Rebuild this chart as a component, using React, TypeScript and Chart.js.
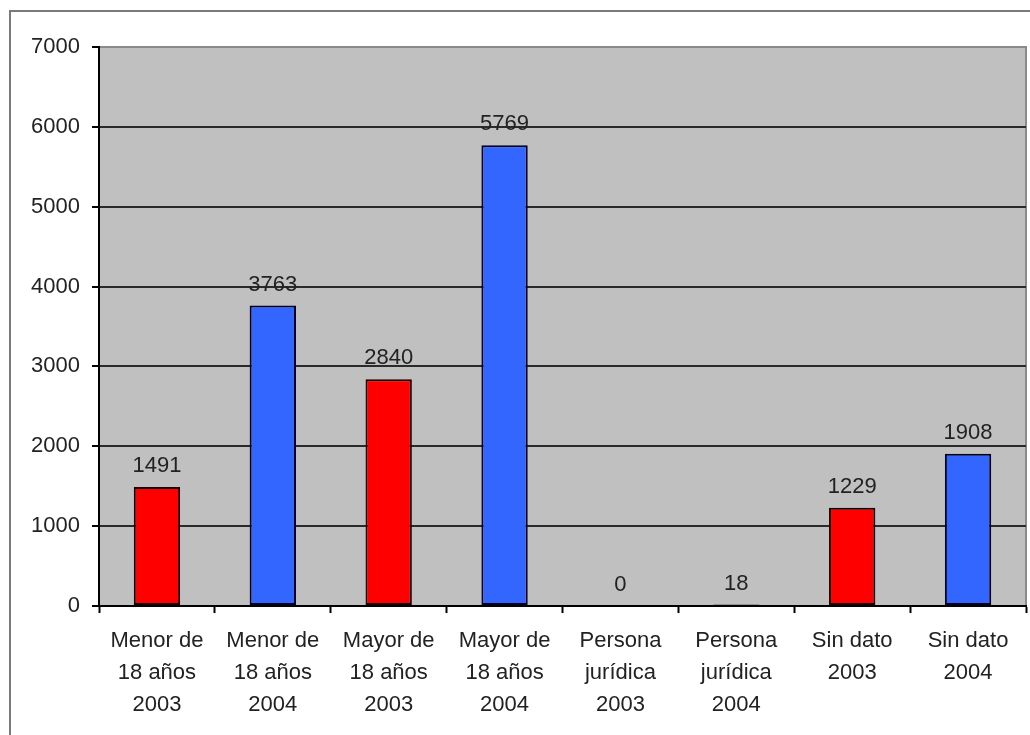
import React, { useEffect, useRef } from "react";
import { Chart, registerables } from "chart.js";

Chart.register(...registerables);

// Category labels, one line per array entry
const categories: string[][] = [
  ["Menor de", "18 años", "2003"],
  ["Menor de", "18 años", "2004"],
  ["Mayor de", "18 años", "2003"],
  ["Mayor de", "18 años", "2004"],
  ["Persona", "jurídica", "2003"],
  ["Persona", "jurídica", "2004"],
  ["Sin dato", "2003"],
  ["Sin dato", "2004"],
];

const values: number[] = [1491, 3763, 2840, 5769, 0, 18, 1229, 1908];

const yearOf: number[] = [2003, 2004, 2003, 2004, 2003, 2004, 2003, 2004];

const yMin = 0;
const yMax = 7000;
const yStep = 1000;

const FONT = "'Liberation Sans', Arial, sans-serif";
const TEXT = "#222222";

const frameAndBackground = {
  id: "frameAndBackground",
  beforeDraw(chart: any) {
    const { ctx, chartArea: a } = chart;
    ctx.save();
    ctx.fillStyle = "#ffffff";
    ctx.fillRect(0, 0, chart.width, chart.height);
    // outer frame
    ctx.strokeStyle = "#7a7a7a";
    ctx.lineWidth = 2;
    ctx.beginPath();
    ctx.moveTo(10, chart.height + 2);
    ctx.lineTo(10, 11);
    ctx.lineTo(chart.width + 2, 11);
    ctx.stroke();
    // plot area
    ctx.fillStyle = "#c0c0c0";
    ctx.fillRect(a.left, a.top, a.right - a.left, a.bottom - a.top);
    ctx.strokeStyle = "#8a8a8a";
    ctx.lineWidth = 2;
    ctx.strokeRect(a.left, a.top, a.right - a.left, a.bottom - a.top);
    ctx.restore();
  },
};

const valueLabels = {
  id: "valueLabels",
  afterDatasetsDraw(chart: any) {
    const { ctx } = chart;
    const meta = chart.getDatasetMeta(0);
    ctx.save();
    ctx.font = `22px ${FONT}`;
    ctx.fillStyle = TEXT;
    ctx.textAlign = "center";
    ctx.textBaseline = "middle";
    meta.data.forEach((bar: any, i: number) => {
      ctx.fillText(String(values[i]), bar.x, bar.y - 21);
    });
    ctx.restore();
  },
};

export default function App() {
  const ref = useRef<HTMLCanvasElement | null>(null);

  useEffect(() => {
    document.body.style.margin = "0";
    const canvas = ref.current;
    if (!canvas) return;
    const chart = new Chart(canvas, {
      type: "bar",
      data: {
        labels: categories,
        datasets: [
          {
            data: values,
            backgroundColor: yearOf.map((y) => (y === 2003 ? "#ff0000" : "#3366ff")),
            borderColor: yearOf.map((y) => (y === 2003 ? "#1a0000" : "#000022")),
            borderWidth: values.map((v) => (v === 0 ? 0 : 2)),
            borderSkipped: false,
            barPercentage: 0.4,
            categoryPercentage: 1,
          },
        ],
      },
      options: {
        animation: false,
        responsive: false,
        devicePixelRatio: 1,
        layout: { padding: { left: 0, top: 47, right: 4, bottom: 0 } },
        plugins: {
          legend: { display: false },
          tooltip: { enabled: false },
          title: { display: false },
        },
        scales: {
          x: {
            afterFit: (s: any) => {
              s.height = 129;
            },
            grid: {
              offset: true,
              drawOnChartArea: false,
              drawTicks: true,
              tickLength: 7,
              tickColor: "#000000",
              tickWidth: 2,
            },
            border: { display: true, color: "#000000", width: 2 },
            ticks: {
              color: TEXT,
              font: { family: FONT, size: 22, lineHeight: "32px" },
              padding: 12,
              maxRotation: 0,
              autoSkip: false,
            },
          },
          y: {
            min: yMin,
            max: yMax,
            afterFit: (s: any) => {
              s.width = 99;
            },
            grid: {
              color: (c: any) => (c.tick && c.tick.value === yMax ? "#8a8a8a" : "#2a2a2a"),
              lineWidth: 2,
              tickLength: 7,
              tickColor: "#000000",
              tickWidth: 2,
            },
            border: { display: true, color: "#000000", width: 2 },
            ticks: {
              stepSize: yStep,
              color: TEXT,
              font: { family: FONT, size: 22 },
              padding: 12,
              callback: (v: any) => String(v),
            },
          },
        },
      },
      plugins: [frameAndBackground, valueLabels],
    });
    return () => chart.destroy();
  }, []);

  return (
    <div style={{ width: 1030, height: 735 }}>
      <canvas ref={ref} width={1030} height={735} style={{ width: 1030, height: 735, display: "block" }} />
    </div>
  );
}
